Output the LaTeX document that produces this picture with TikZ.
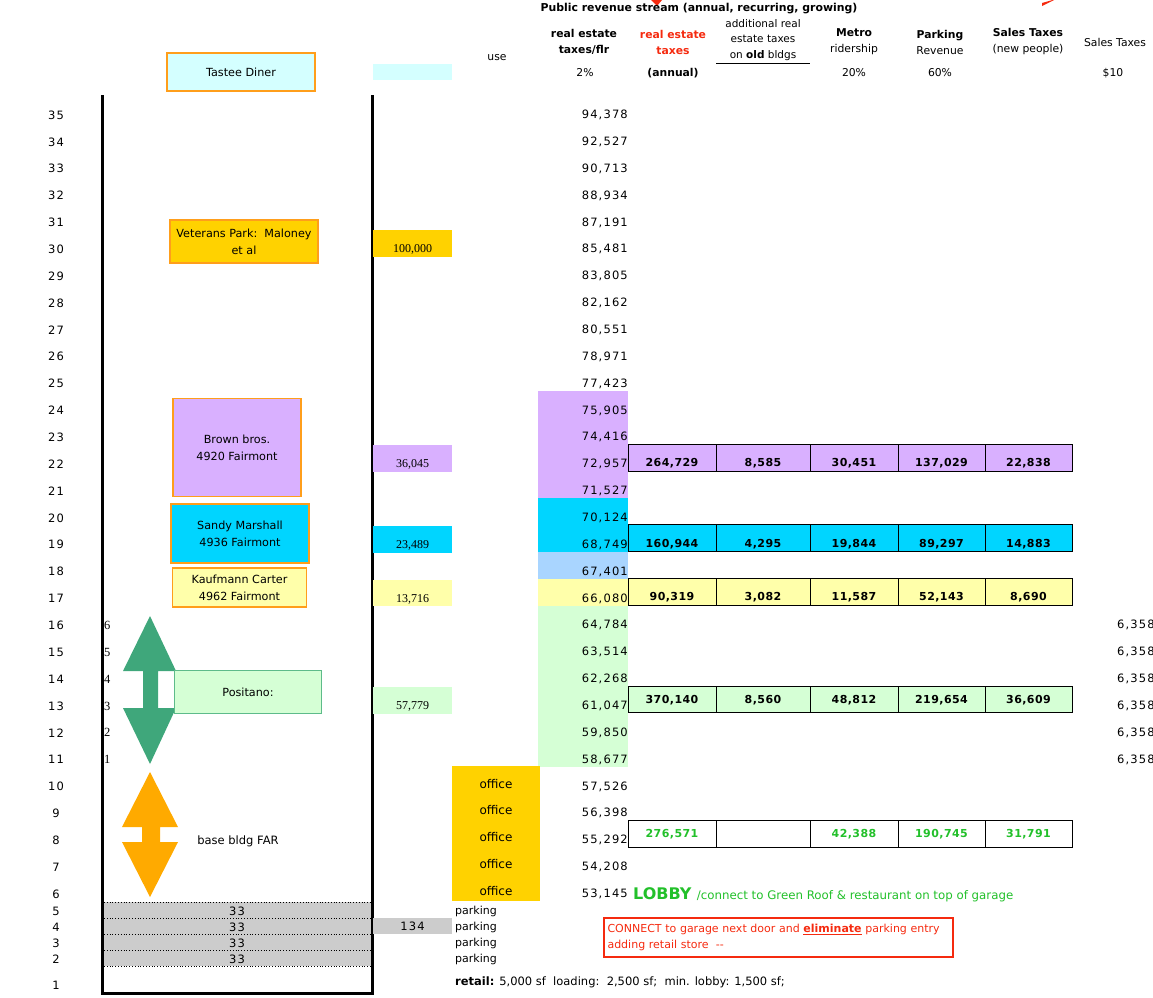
\documentclass[tikz,border=0pt]{standalone}
\usepackage{fontspec}
\setmainfont{DejaVu Sans}
\newfontfamily\numfont[LetterSpace=10]{DejaVu Sans}
\newfontfamily\tabfont[LetterSpace=4]{DejaVu Sans}
\newfontfamily\costfont{Liberation Serif}

\definecolor{tasteecyan}{HTML}{D4FFFF}
\definecolor{vetgold}{HTML}{FFD200}
\definecolor{brownlav}{HTML}{D9B0FF}
\definecolor{sandycyan}{HTML}{00D5FF}
\definecolor{paleblue}{HTML}{A9D5FF}
\definecolor{kaufyellow}{HTML}{FFFFAA}
\definecolor{posgreen}{HTML}{D5FFD5}
\definecolor{posedge}{HTML}{5DBB8A}
\definecolor{arrowgreen}{HTML}{3FA77B}
\definecolor{arroworange}{HTML}{FFAA00}
\definecolor{edgeorange}{HTML}{FF9E1B}
\definecolor{garagegray}{HTML}{CCCCCC}
\definecolor{noticered}{HTML}{F52A0F}
\definecolor{lobbygreen}{HTML}{22C02A}

\begin{document}
\begin{tikzpicture}[x=1pt,y=-1pt,
	every node/.style={inner sep=0pt},
	lbl/.style={font=\numfont\fontsize{11.5}{13}\selectfont},
	hdr/.style={align=center, font=\fontsize{10.8}{16}\selectfont},
	hdrbold/.style={hdr, font=\bfseries\fontsize{10.8}{16}\selectfont},
	ownerbox/.style={draw=edgeorange, line width=1.5pt, align=center, font=\fontsize{11.2}{17}\selectfont},
	costcell/.style={minimum width=79pt, minimum height=26.9pt, text height=19pt, text depth=1pt, font=\costfont\fontsize{12}{13}\selectfont},
	officecell/.style={fill=vetgold, minimum width=88pt, minimum height=27.3pt, text height=18pt, text depth=2pt, font=\fontsize{12}{13}\selectfont},
	taxcell/.style={draw=black, line width=0.9pt, minimum height=26.9pt, text depth=1.5pt, font=\tabfont\bfseries\fontsize{11}{12}\selectfont},
	note/.style={font=\fontsize{11}{12}\selectfont}]
	\useasboundingbox (0,0) rectangle (1153,997);
	
	% colour bands behind the tax-per-floor column
	\fill[brownlav] (538,390.6) rectangle (628,498.0);
	\fill[sandycyan] (538,498.0) rectangle (628,551.8);
	\fill[paleblue] (538,551.8) rectangle (628,578.6);
	\fill[kaufyellow] (538,578.6) rectangle (628,605.5);
	\fill[posgreen] (538,605.5) rectangle (628,766.6);
	
	% garage floors
	\fill[garagegray] (104,902) rectangle (371,966);
	\foreach \gy in {902,918,934,950,966}
		\draw[dotted, line width=0.8pt] (104,\gy) -- (371,\gy);
	\foreach \rw/\gy in {5/911,4/927,3/943,2/959}{
		\node[lbl] (row\rw) at (56,\gy) {\rw};
		\node[lbl] (garage\rw) at (237,\gy) {33};
		\node[note, anchor=west] (park\rw) at (455,\gy) {parking};
	}
	\node[lbl] (row1) at (56,985) {1};
	
	% floors 35 .. 6
	\foreach \rw/\v in {35/{94,378},34/{92,527},33/{90,713},32/{88,934},31/{87,191},30/{85,481},
		29/{83,805},28/{82,162},27/{80,551},26/{78,971},25/{77,423},24/{75,905},23/{74,416},
		22/{72,957},21/{71,527},20/{70,124},19/{68,749},18/{67,401},17/{66,080},16/{64,784},
		15/{63,514},14/{62,268},13/{61,047},12/{59,850},11/{58,677},10/{57,526},9/{56,398},
		8/{55,292},7/{54,208},6/{53,145}}{
		\pgfmathsetmacro\ry{115+(35-\rw)*26.86}
		\node[lbl] (row\rw) at (56,\ry) {\rw};
		\node[lbl, anchor=east] (tax\rw) at (628,\ry) {\v};
	}
	\foreach \rw in {10,...,6}{
		\pgfmathsetmacro\ry{115+(35-\rw)*26.86}
		\node[officecell] (office\rw) at (496,\ry-6.5) {office};
	}
	\foreach \rw/\n in {16/6,15/5,14/4,13/3,12/2,11/1}{
		\pgfmathsetmacro\ry{115+(35-\rw)*26.86}
		\node[anchor=west, font=\costfont\fontsize{12.5}{13}\selectfont] (sub\rw) at (104,\ry) {\n};
		\node[lbl, anchor=west] (sales\rw) at (1117,\ry) {6,358};
	}
	
	% double arrows
	\fill[arrowgreen] (150,616) -- (176,671) -- (158,671) -- (158,708) -- (176,708) -- (150,764)
		-- (123,708) -- (143,708) -- (143,671) -- (123,671) -- cycle;
	\fill[arroworange] (150,772) -- (178,827) -- (160,827) -- (160,842) -- (178,842) -- (150,897)
		-- (122,842) -- (142,842) -- (142,827) -- (122,827) -- cycle;
	\node[font=\fontsize{11.5}{13}\selectfont] (basefar) at (238,841) {base bldg FAR};
	
	% building outline
	\draw[line width=3pt] (102,95) -- (102,993) -- (372,993) -- (372,95);
	
	% owners
	\node[ownerbox, fill=tasteecyan, minimum width=148pt, minimum height=38pt] (tastee) at (241,72) {Tastee Diner};
	\node[ownerbox, fill=vetgold, minimum width=148pt, minimum height=43pt] (veterans) at (244,241.5) {Veterans Park:\ \ Maloney\\et al};
	\node[ownerbox, fill=brownlav, minimum width=128pt, minimum height=98pt] (brown) at (237,447.5) {Brown bros.\\4920 Fairmont};
	\node[ownerbox, fill=sandycyan, minimum width=138pt, minimum height=59pt] (sandy) at (240,533.5) {Sandy Marshall\\4936 Fairmont};
	\node[ownerbox, fill=kaufyellow, minimum width=134pt, minimum height=39pt] (kaufmann) at (239.5,587.5) {Kaufmann Carter\\4962 Fairmont};
	\node[ownerbox, draw=posedge, fill=posgreen, minimum width=147pt, minimum height=43pt] (positano) at (248,692) {Positano:};
	
	% purchase costs
	\node[fill=tasteecyan, minimum width=79pt, minimum height=16pt] (costtop) at (412.5,72) {};
	\node[costcell, fill=vetgold] (cost30) at (412.5,243.5) {100,000};
	\node[costcell, fill=brownlav] (cost22) at (412.5,458.7) {36,045};
	\node[costcell, fill=sandycyan] (cost19) at (412.5,539.2) {23,489};
	\node[costcell, fill=kaufyellow] (cost17) at (412.5,593.0) {13,716};
	\node[costcell, fill=posgreen] (cost13) at (412.5,700.4) {57,779};
	\node[lbl, fill=garagegray, minimum width=79pt, minimum height=16pt] (cost4) at (412.5,926) {134};
	
	% headings
	\fill[noticered] (651,0) -- (662,0) -- (657,6) -- cycle;
	\fill[noticered] (1042,3) -- (1056,-1) -- (1042,6) -- cycle;
	\node[font=\bfseries\fontsize{10.9}{12}\selectfont] (title) at (699,9) {Public revenue stream (annual, recurring, growing)};
	\node[hdr] (usehd) at (497,58) {use};
	\node[hdrbold] (taxflrhd) at (584,42) {real estate\\taxes/flr};
	\node[hdrbold, text=noticered] (taxhd) at (673,42) {real estate\\taxes};
	\node[hdr, font=\fontsize{10.5}{15.5}\selectfont] (oldhd) at (763,40) {additional real\\estate taxes\\on \textbf{old} bldgs};
	\draw[line width=0.9pt] (716,63) -- (810,63);
	\node[hdr] (metrohd) at (854,42) {\textbf{Metro}\\ridership};
	\node[hdr] (parkhd) at (940,42) {\textbf{Parking}\\Revenue};
	\node[hdr] (saleshd) at (1028,42) {\textbf{Sales Taxes}\\(new people)};
	\node[hdr] (sales2hd) at (1115,42) {Sales Taxes};
	\node[hdr] (ratetax) at (585,73) {2\%};
	\node[hdrbold] (rateann) at (673,73) {(annual)};
	\node[hdr] (ratemetro) at (854,73) {20\%};
	\node[hdr] (ratepark) at (940,73) {60\%};
	\node[hdr] (ratesales) at (1113,73) {\$10};
	
	% revenue rows
	\foreach \rw/\hgt/\tc/\va/\vb/\vc/\vd/\ve/\fc in {
		22/19/black/{264,729}/{8,585}/{30,451}/{137,029}/{22,838}/brownlav,
		19/19/black/{160,944}/{4,295}/{19,844}/{89,297}/{14,883}/sandycyan,
		17/19/black/{90,319}/{3,082}/{11,587}/{52,143}/{8,690}/kaufyellow,
		13/9/black/{370,140}/{8,560}/{48,812}/{219,654}/{36,609}/posgreen,
		8/9/lobbygreen/{276,571}/{}/{42,388}/{190,745}/{31,791}/white}{
		\pgfmathsetmacro\cy{115+(35-\rw)*26.86-6.5}
		\node[taxcell, fill=\fc, text=\tc, text height=\hgt pt, minimum width=88pt] (rev\rw a) at (672,\cy) {\va};
		\node[taxcell, fill=\fc, text=\tc, text height=\hgt pt, minimum width=94pt] (rev\rw b) at (763,\cy) {\vb};
		\node[taxcell, fill=\fc, text=\tc, text height=\hgt pt, minimum width=88pt] (rev\rw c) at (854,\cy) {\vc};
		\node[taxcell, fill=\fc, text=\tc, text height=\hgt pt, minimum width=87pt] (rev\rw d) at (941.5,\cy) {\vd};
		\node[taxcell, fill=\fc, text=\tc, text height=\hgt pt, minimum width=87pt] (rev\rw e) at (1028.5,\cy) {\ve};
	}
	
	% notes
	\node[anchor=base west, text=lobbygreen, font=\bfseries\fontsize{16}{17}\selectfont] (lobby) at (633,899) {LOBBY};
	\node[anchor=base west, text=lobbygreen, font=\fontsize{11.8}{13}\selectfont] (lobbynote) at ([xshift=5pt]lobby.base east) {/connect to Green Roof \& restaurant on top of garage};
	\node[draw=noticered, line width=1.3pt, text=noticered, align=left, text width=342pt, minimum width=349pt, minimum height=39pt, inner xsep=3pt, font=\fontsize{11}{16}\selectfont] (garagenote) at (778.5,937.5) {CONNECT to garage next door and \underline{\textbf{eliminate}} parking entry\\adding retail store\ \ -{}-};
	\node[anchor=west, font=\fontsize{11.5}{13}\selectfont] (retail) at (455,982) {\textbf{retail:} 5,000 sf\ \ loading:\ \ 2,500 sf;\ \ min. lobby: 1,500 sf;};
\end{tikzpicture}
\end{document}
